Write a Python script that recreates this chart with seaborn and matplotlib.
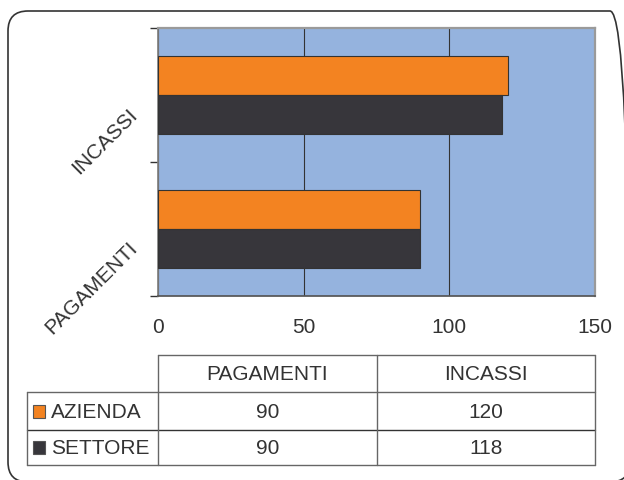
import numpy as np
import pandas as pd
import matplotlib.pyplot as plt
import matplotlib.transforms as mtransforms
from matplotlib.patches import FancyBboxPatch, Rectangle
from matplotlib.lines import Line2D
import seaborn as sns

sns.set_theme(style='white')
plt.rcParams['font.family'] = ['Liberation Sans', 'DejaVu Sans']

categories = ['PAGAMENTI', 'INCASSI']
series = ['AZIENDA', 'SETTORE']
azienda = [90, 120]
settore = [90, 118]
xticks = [0, 50, 100, 150]

colors = {'AZIENDA': '#F38321', 'SETTORE': '#37363B'}
bg = '#95B3DE'
txt = '#333333'
fs = 15

df = pd.DataFrame({
    'categoria': categories * 2,
    'serie': [series[0]] * len(categories) + [series[1]] * len(categories),
    'valore': azienda + settore,
})

W, H = 624, 481
fig = plt.figure(figsize=(W / 100, H / 100), dpi=100)
fig.patch.set_facecolor('white')
ax = fig.add_axes([158 / W, 1 - 297 / H, 437 / W, 268 / H])
ax.set_facecolor(bg)

sns.barplot(data=df, x='valore', y='categoria', hue='serie', order=categories[::-1],
            hue_order=series, palette=colors, orient='h', width=0.58, saturation=1,
            edgecolor='#333333', linewidth=0.8, legend=False, ax=ax, zorder=3)

ax.set(xlim=(0, 150), xlabel=None, ylabel=None)
ax.set_xticks(xticks)
ax.set_xticklabels([str(t) for t in xticks], fontsize=fs, color=txt)
ax.tick_params(axis='x', length=0, pad=15)
ax.set_xticks([0, 150], minor=True)
ax.tick_params(axis='x', which='minor', length=5, color='#555555', direction='out', bottom=True)
ax.grid(True, axis='x', color='#333333', lw=0.8)
ax.set_axisbelow(True)

ax.set_yticks([0, 1])
ax.set_yticklabels(categories[::-1], rotation=45, ha='right', va='center',
                   rotation_mode='anchor', fontsize=fs, color=txt)
ax.tick_params(axis='y', length=0, pad=17)
ax.set_yticks([-0.5, 0.5, 1.5], minor=True)
ax.tick_params(axis='y', which='minor', length=6, color='#333333', direction='out', left=True)
shift = mtransforms.ScaledTranslation(0, -0.155, fig.dpi_scale_trans)
for lab in ax.get_yticklabels():
    lab.set_transform(lab.get_transform() + shift)

ax.spines['left'].set_color('#808080')
ax.spines['bottom'].set_color('#555555')
for s in ['top', 'right']:
    ax.spines[s].set_color('#9a9a9a')
    ax.spines[s].set_linewidth(1.6)
for s in ax.spines.values():
    s.set_visible(True)

# data table under the chart
def fx(x):
    return x / W

def fy(y):
    return 1 - y / H

x0, x1 = 158, 595
cols = np.linspace(x0, x1, len(categories) + 1)
xl = 27
y_head, y_r1, y_r2, y_end = 356, 393, 431, 466
lc = '#666666'

def hline(y, xa, xb, c=lc):
    fig.add_artist(Line2D([fx(xa), fx(xb)], [fy(y), fy(y)], color=c, lw=1))

def vline(x, ya, yb, c=lc):
    fig.add_artist(Line2D([fx(x), fx(x)], [fy(ya), fy(yb)], color=c, lw=1))

hline(y_head, x0, x1)
hline(y_r1, xl, x1)
hline(y_r2, xl, x1, c='#333333')
hline(y_end, xl, x1)
for c in cols:
    vline(c, y_head, y_end)
vline(xl, y_r1, y_end)

for i, cat in enumerate(categories):
    xc = (cols[i] + cols[i + 1]) / 2
    fig.text(fx(xc), fy((y_head + y_r1) / 2), cat, ha='center', va='center', fontsize=fs, color=txt)
    fig.text(fx(xc), fy((y_r1 + y_r2) / 2), str(azienda[i]), ha='center', va='center', fontsize=fs, color=txt)
    fig.text(fx(xc), fy((y_r2 + y_end) / 2), str(settore[i]), ha='center', va='center', fontsize=fs, color=txt)

for name, (ya, yb) in zip(series, [(y_r1, y_r2), (y_r2, y_end)]):
    yc = (ya + yb) / 2
    fig.add_artist(Rectangle((fx(33), fy(yc + 6.5)), 12 / W, 13 / H, transform=fig.transFigure,
                             facecolor=colors[name], edgecolor='#555555', lw=0.8))
    fig.text(fx(51), fy(yc), name, ha='left', va='center', fontsize=fs, color=txt)

# rounded outer frame, right and bottom edges run off the picture
frame = FancyBboxPatch((8, H - 483), 622, 471, boxstyle='round,pad=0,rounding_size=20',
                       transform=mtransforms.IdentityTransform(), fill=False,
                       edgecolor='#333333', lw=1.2)
fig.add_artist(frame)

fig.savefig('out.png', dpi=100)
